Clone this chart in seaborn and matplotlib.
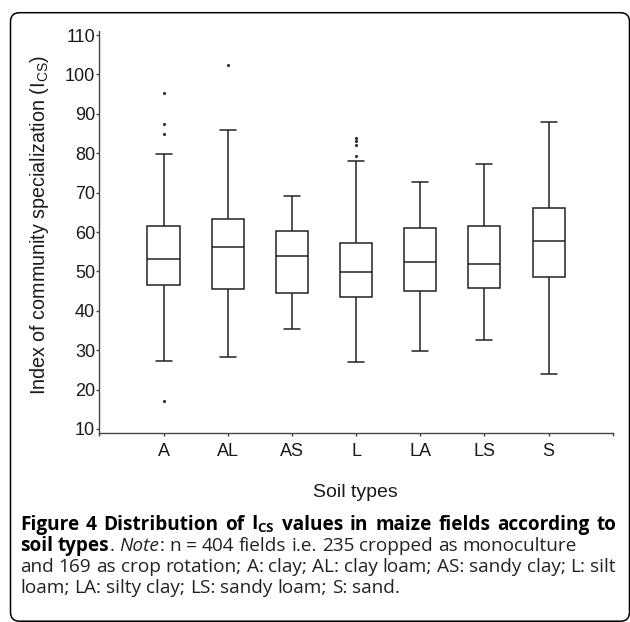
import matplotlib
matplotlib.use("Agg")
import matplotlib.pyplot as plt
import pandas as pd
import seaborn as sns
from matplotlib.patches import FancyBboxPatch
from matplotlib.transforms import IdentityTransform

# box statistics (I_CS per soil type)
soils = ["A", "AL", "AS", "L", "LA", "LS", "S"]
whisker_low = [27.3, 28.2, 35.4, 26.9, 29.8, 32.6, 24.0]
q1 = [46.5, 45.5, 44.4, 43.4, 45.1, 45.8, 48.6]
median = [53.1, 56.3, 53.8, 49.8, 52.4, 51.8, 57.8]
q3 = [61.4, 63.3, 60.3, 57.1, 61.1, 61.4, 66.1]
whisker_high = [79.9, 85.9, 69.1, 77.9, 72.7, 77.2, 87.9]
outlier_soil = ["A", "A", "A", "A", "AL", "L", "L", "L", "L"]
outlier_value = [95.3, 87.4, 84.8, 17.2, 102.3, 83.8, 83.0, 82.2, 79.4]

# five numbers per soil -> with whis=(0,100) the box shows exactly these
rows = []
for i, s in enumerate(soils):
    for v in (whisker_low[i], q1[i], median[i], q3[i], whisker_high[i]):
        rows.append({"soil": s, "ics": v})
box_df = pd.DataFrame(rows)
out_df = pd.DataFrame({"soil": outlier_soil, "ics": outlier_value})

sns.set_style("ticks")
plt.rcParams["font.family"] = ["Liberation Sans", "DejaVu Sans"]

fig = plt.figure(figsize=(6.3, 6.22), dpi=100)
ax = fig.add_axes([0.1577, 0.304, 0.815, 0.646])

sns.boxplot(data=box_df, x="soil", y="ics", order=soils, whis=(0, 100),
            width=0.5, color="white", linecolor="#222222", linewidth=1.1,
            fliersize=0, ax=ax)
sns.stripplot(data=out_df, x="soil", y="ics", order=soils, jitter=False,
              color="#333333", size=2.3, ax=ax)

ax.set_xlim(-1, 7)
ax.set_ylim(9, 111)
ax.set_yticks(range(10, 111, 10))
ax.set_xticks(range(-1, 8))
ax.set_xticklabels([""] + soils + [""])
sns.despine(ax=ax)
for sp in ("left", "bottom"):
    ax.spines[sp].set_color("#444444")
    ax.spines[sp].set_linewidth(1.0)
ax.tick_params(direction="out", length=2.5, width=1.0, color="#444444",
               labelcolor="#1a1a1a", labelsize=13)
ax.tick_params(axis="y", pad=0.5)
ax.tick_params(axis="x", pad=4.5)

ax.set_ylabel(r"Index of community specialization (I$_{\mathregular{CS}}$)",
              fontsize=14.2, color="#1a1a1a")
ax.yaxis.set_label_coords(-0.094, 0.517)
ax.set_xlabel("Soil types", fontsize=14, color="#1a1a1a")
ax.xaxis.label.set_va("baseline")
ax.xaxis.set_label_coords(0.498, -0.159)

# rounded frame around figure + caption
frame = FancyBboxPatch((10.5, 0.8), 619, 608.5,
                       boxstyle="round,pad=0,rounding_size=9",
                       transform=IdentityTransform(), fill=False,
                       edgecolor="black", linewidth=1.1)
fig.add_artist(frame)

renderer = fig.canvas.get_renderer()
cap = {"family": ["Open Sans", "DejaVu Sans"], "size": 13.7, "color": "#222222"}
styles = {"b": dict(cap, weight="bold", color="black"),
          "n": dict(cap),
          "i": dict(cap, style="italic")}


def text_width(s, st):
    t = fig.text(0, 0, s, transform=IdentityTransform(), **styles[st])
    w = t.get_window_extent(renderer).width
    t.remove()
    return w


space = text_width("x x", "n") - text_width("xx", "n")


def words_of(segments):
    words = [[]]
    for text, st in segments:
        for i, p in enumerate(text.split(" ")):
            if i > 0:
                words.append([])
            if p:
                words[-1].append((p, st))
    return [w for w in words if w]


def draw_line(segments, y, justify=None, x0=20):
    words = words_of(segments)
    widths = [[text_width(p, st) for p, st in w] for w in words]
    total = sum(sum(w) for w in widths)
    gap = space if justify is None else (justify - x0 - total) / (len(words) - 1)
    x = x0
    for w, ws in zip(words, widths):
        for (p, st), pw in zip(w, ws):
            fig.text(x, 622 - y, p, transform=IdentityTransform(),
                     va="baseline", **styles[st])
            x += pw
        x += gap


draw_line([(r"Figure 4 Distribution of I$_{\mathregular{CS}}$ values in maize "
            "fields according to", "b")], 530, justify=616)
draw_line([("soil types", "b"), (". ", "n"), ("Note", "i"),
           (": n = 404 fields i.e. 235 cropped as monoculture", "n")], 551)
draw_line([("and 169 as crop rotation; A: clay; AL: clay loam; AS: sandy clay; "
            "L: silt", "n")], 572, justify=616)
draw_line([("loam; LA: silty clay; LS: sandy loam; S: sand.", "n")], 593)

fig.savefig("out.png", dpi=100)
